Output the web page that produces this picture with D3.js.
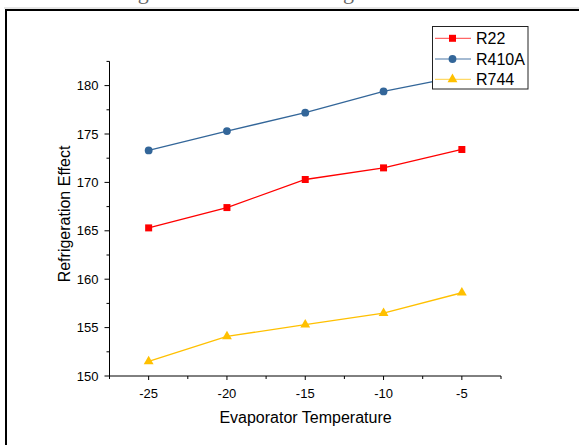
<!DOCTYPE html>
<html><head><meta charset="utf-8">
<script src="https://cdn.jsdelivr.net/npm/d3@7"></script>
<style>html,body{margin:0;padding:0;background:#fff;}svg{display:block;}</style>
</head><body>
<script>
const temps = [-25, -20, -15, -10, -5];
const r22 = [165.3, 167.4, 170.3, 171.5, 173.4];
const r410a = [173.3, 175.3, 177.2, 179.4, 181.0];
const r744 = [151.5, 154.1, 155.3, 156.5, 158.6];
const xTicks = [-25, -20, -15, -10, -5];
const yTicks = [150, 155, 160, 165, 170, 175, 180];
const seriesNames = ["R22", "R410A", "R744"];

const W = 579, H = 445;
const font = "Arial, 'Liberation Sans', sans-serif";
const svg = d3.select("body").append("svg").attr("width", W).attr("height", H);

// cropped text line at top (only its lowest part is visible)
svg.append("text").attr("x", 2).attr("y", -1.5)
  .attr("font-family", "'Liberation Serif', 'Times New Roman', serif").attr("font-size", 22)
  .attr("textLength", 352).attr("lengthAdjust", "spacing")
  .attr("fill", "#666").text("the following are stated scoring");

// outer frame
svg.append("line").attr("x1", 4).attr("x2", W).attr("y1", 8).attr("y2", 8).attr("stroke", "#ccc").attr("stroke-width", 1);
svg.append("rect").attr("x", 6).attr("y", 10).attr("width", 700).attr("height", 600)
  .attr("fill", "none").attr("stroke", "#000").attr("stroke-width", 2);

const x = d3.scaleLinear().domain([-27.5, -2.5]).range([109.5, 501]);
const y = d3.scaleLinear().domain([150, 182.5]).range([376, 61.4]);

// minor ticks
const xMinor = d3.range(-27.5, -2.4, 5);
const yMinor = d3.range(152.5, 182.6, 5);

const gx = svg.append("g").attr("transform", "translate(0,376)");
gx.append("line").attr("x1", x.range()[0]).attr("x2", x.range()[1]).attr("stroke", "#000").attr("stroke-width", 1);
gx.selectAll(".mj").data(xTicks).join("line").attr("x1", d => x(d)).attr("x2", d => x(d)).attr("y1", 0).attr("y2", 4).attr("stroke", "#000");
gx.selectAll(".mn").data(xMinor).join("line").attr("class", "mn").attr("x1", d => x(d)).attr("x2", d => x(d)).attr("y1", 0).attr("y2", 3).attr("stroke", "#000");
gx.selectAll("text").data(xTicks).join("text").attr("x", d => x(d)).attr("y", 21.5)
  .attr("text-anchor", "middle").attr("font-family", font).attr("font-size", 13).attr("fill", "#000").text(d => d);

const gy = svg.append("g").attr("transform", "translate(109.5,0)");
gy.append("line").attr("y1", y.range()[0]).attr("y2", y.range()[1]).attr("stroke", "#000").attr("stroke-width", 1);
gy.selectAll(".mj").data(yTicks).join("line").attr("y1", d => y(d)).attr("y2", d => y(d)).attr("x1", 0).attr("x2", -5).attr("stroke", "#000");
gy.selectAll(".mn").data(yMinor).join("line").attr("class", "mn").attr("y1", d => y(d)).attr("y2", d => y(d)).attr("x1", 0).attr("x2", -3).attr("stroke", "#000");
gy.selectAll("text").data(yTicks).join("text").attr("x", -11).attr("y", d => y(d)).attr("dy", "0.36em")
  .attr("text-anchor", "end").attr("font-family", font).attr("font-size", 13).attr("fill", "#000").text(d => d);

svg.append("text").attr("x", 305.5).attr("y", 422.5).attr("text-anchor", "middle")
  .attr("font-family", font).attr("font-size", 16).attr("fill", "#000").text("Evaporator Temperature");
svg.append("text").attr("transform", "translate(69.5,214) rotate(-90)").attr("text-anchor", "middle")
  .attr("font-family", font).attr("font-size", 16).attr("fill", "#000").text("Refrigeration Effect");

const series = [
  {name: seriesNames[0], vals: r22, color: "#ff0000", sym: d3.symbolSquare, size: 49},
  {name: seriesNames[1], vals: r410a, color: "#336699", sym: d3.symbolCircle, size: 48},
  {name: seriesNames[2], vals: r744, color: "#ffc000", sym: d3.symbolTriangle, size: 42}
];
const line = d3.line().x((d, i) => x(temps[i])).y(d => y(d));
series.forEach(s => {
  svg.append("path").attr("d", line(s.vals)).attr("fill", "none").attr("stroke", s.color).attr("stroke-width", 1.3);
  svg.selectAll(null).data(s.vals).join("path")
    .attr("transform", (d, i) => `translate(${x(temps[i])},${y(d)})`)
    .attr("d", d3.symbol().type(s.sym).size(s.size)).attr("fill", s.color);
});

// legend
const lg = svg.append("g");
lg.append("rect").attr("x", 432.5).attr("y", 26.5).attr("width", 95.5).attr("height", 62.5)
  .attr("fill", "#fff").attr("stroke", "#222").attr("stroke-width", 1);
const rowY = [38.3, 59, 79.3];
series.forEach((s, i) => {
  lg.append("line").attr("x1", 435).attr("x2", 471).attr("y1", rowY[i]).attr("y2", rowY[i])
    .attr("stroke", s.color).attr("stroke-opacity", 0.6).attr("stroke-width", 1.3);
  lg.append("path").attr("transform", `translate(452.5,${rowY[i]})`)
    .attr("d", d3.symbol().type(s.sym).size(s.size)).attr("fill", s.color);
  lg.append("text").attr("x", 476).attr("y", rowY[i]).attr("dy", "0.36em")
    .attr("font-family", font).attr("font-size", 16).attr("fill", "#000").text(s.name);
});
</script>
</body></html>
